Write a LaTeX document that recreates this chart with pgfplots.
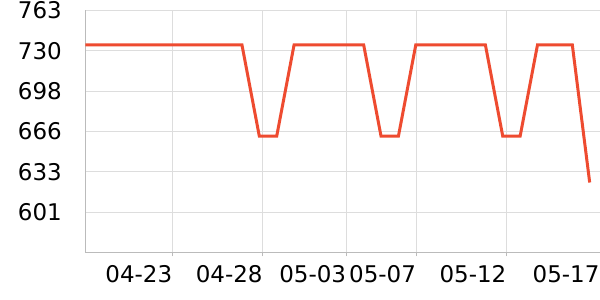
\documentclass[border=0pt]{standalone}
\usepackage{fontspec}
\setmainfont{DejaVu Sans}
\usepackage{pgfplots}
\pgfplotsset{compat=1.18}
\definecolor{lineC}{HTML}{EE4B30}
\definecolor{gridC}{HTML}{DDDDDD}
\definecolor{axisC}{HTML}{BBBBBB}
\begin{document}
\begin{tikzpicture}
\begin{axis}[
  at={(0pt,0pt)}, anchor=origin,
  scale only axis, width=514.5pt, height=242pt,
  xmin=0, xmax=29.57, ymin=569, ymax=763,
  axis x line=bottom, axis y line=left,
  axis line style={-, draw=axisC, line width=0.8pt},
  xmajorgrids, ymajorgrids,
  grid style={draw=gridC, line width=0.8pt},
  xtick={5,10.2,15,19.02,24.22},
  xticklabels={04-23,04-28,05-03,05-07,05-12},
  extra x ticks={29.4},
  extra x tick labels={05-17},
  extra x tick style={xmajorgrids=false, xtick style={draw=none}, xticklabel style={xshift=3pt}},
  ytick={601.33,633.67,666,698.33,730.67,763},
  yticklabels={601,633,666,698,730,763},
  tick align=outside, major tick length=4pt,
  xtick style={draw=axisC, line width=0.8pt},
  ytick style={draw=none},
  /pgf/number format/assume math mode=true,
  ticklabel style={font=\fontsize{23}{27}\selectfont, text=black, inner sep=0pt},
  xticklabel style={anchor=north east, yshift=-8.5pt},
  yticklabel style={anchor=east, xshift=-19.5pt},
  clip=false,
]
\addplot[color=lineC, line width=3pt, line join=miter] table {
x y
0 735.5
1 735.5
2 735.5
3 735.5
4 735.5
5 735.5
6 735.5
7 735.5
8 735.5
9 735.5
10 662.2
11 662.2
12 735.5
13 735.5
14 735.5
15 735.5
16 735.5
17 662.2
18 662.2
19 735.5
20 735.5
21 735.5
22 735.5
23 735.5
24 662.2
25 662.2
26 735.5
27 735.5
28 735.5
29 625
};
\end{axis}
\path[use as bounding box] (-85.5pt,-47.5pt) rectangle (514.5pt,252.5pt);
\end{tikzpicture}
\end{document}
